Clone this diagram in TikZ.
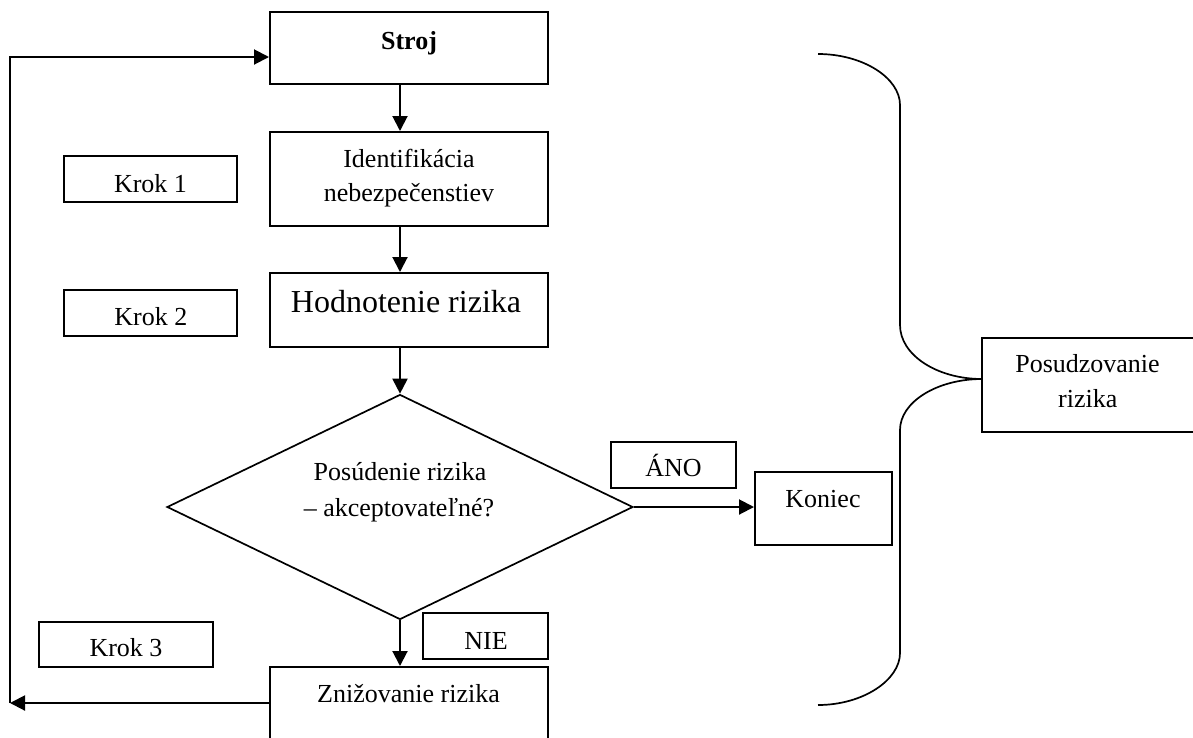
\documentclass[tikz,border=0pt]{standalone}
\usepackage{fontspec}
\setmainfont{Liberation Serif}
\usetikzlibrary{arrows.meta,shapes.geometric}
\begin{document}
\begin{tikzpicture}[x=1pt,y=-1pt,
  box/.style={draw,line width=2pt,rectangle,inner sep=0pt},
  txt/.style={inner sep=0pt,anchor=base,font=\fontsize{26}{34}\selectfont},
  bigtxt/.style={inner sep=0pt,anchor=base,font=\fontsize{32}{38}\selectfont},
  arr/.style={line width=2pt,-{Triangle[length=15pt,width=15pt]}},
  ln/.style={line width=1.7pt}]
\useasboundingbox (0,0) rectangle (1193,737);
\clip (0,0) rectangle (1193,737);
% boxes
\node[box,minimum width=278pt,minimum height=72pt] (stroj) at (409,48) {};
\node[box,minimum width=278pt,minimum height=94pt] (ident) at (409,179) {};
\node[box,minimum width=173pt,minimum height=46pt] (krok1) at (150,179) {};
\node[box,minimum width=278pt,minimum height=74pt] (hodn) at (409,310) {};
\node[box,minimum width=173pt,minimum height=46pt] (krok2) at (150,313) {};
\node[draw,ln,diamond,minimum width=466pt,minimum height=225pt,inner sep=0pt] (dia) at (400,507) {};
\node[box,minimum width=174pt,minimum height=45pt] (krok3) at (126,644.5) {};
\node[box,minimum width=125pt,minimum height=46pt] (nie) at (485.5,636) {};
\node[box,minimum width=278pt,minimum height=113pt] (zniz) at (409,723.5) {};
\node[box,minimum width=125pt,minimum height=46pt] (ano) at (673.5,465) {};
\node[box,minimum width=137pt,minimum height=73pt] (kon) at (823.5,508.5) {};
\node[box,minimum width=220pt,minimum height=94pt] (posud) at (1092,385) {};
% texts
\node[txt] (tstroj) at (409,49) {\bfseries Stroj};
\node[txt] (tident1) at (409,167.7) {Identifikácia};
\node[txt] (tident2) at (409,201.7) {nebezpečenstiev};
\node[txt] (tkrok1) at (150.5,192) {Krok 1};
\node[bigtxt] (thodn) at (406,312.3) {Hodnotenie rizika};
\node[txt] (tkrok2) at (150.8,325) {Krok 2};
\node[txt] (tdia1) at (400,480) {Posúdenie rizika};
\node[txt] (tdia2) at (399,516) {– akceptovateľné?};
\node[txt] (tkrok3) at (126,656.7) {Krok 3};
\node[txt] (tnie) at (486,649.3) {NIE};
\node[txt] (tzniz) at (408.5,702.7) {Znižovanie rizika};
\node[txt] (tano) at (673.5,476.7) {ÁNO};
\node[txt] (tkon) at (823,507.3) {Koniec};
\node[txt] (tposud1) at (1087.5,372.7) {Posudzovanie};
\node[txt] (tposud2) at (1087.7,407.7) {rizika};
% connectors
\draw[arr] (stroj.south -| dia.north) -- (ident.north -| dia.north);
\draw[arr] (ident.south -| dia.north) -- (hodn.north -| dia.north);
\draw[arr] (hodn.south -| dia.north) -- (dia.north);
\draw[arr] (dia.south) -- (zniz.north -| dia.south);
\draw[arr] (dia.east) -- (dia.east -| kon.west);
\coordinate (lb) at (10,703);
\coordinate (lt) at (10,57);
\draw[arr] (zniz.west |- lb) -- (lb);
\draw[arr] (lb) -- (lt) -- (stroj.west |- lt);
% brace
\coordinate (btip) at (982,379);
\draw[ln] (818,54) .. controls (863,54) and (900,78) .. (900,105)
  -- (900,325) .. controls (900,355) and (937,379) .. (btip)
  .. controls (937,379) and (900,402) .. (900,430)
  -- (900,653) .. controls (900,680) and (863,705) .. (818,705);
\end{tikzpicture}
\end{document}
